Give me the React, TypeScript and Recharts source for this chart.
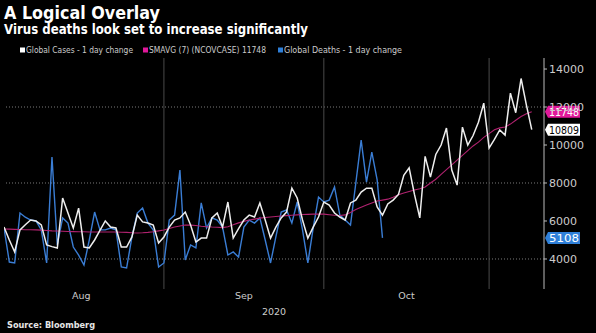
import React from 'react';
import { ComposedChart, Line, XAxis, YAxis, ReferenceLine, ReferenceDot, Label } from 'recharts';

// Daily values starting Aug 2, 2020 (index 0) through Nov 9, 2020 (index 99)
const casesChange = [
  5680, 5000, 4370, 5530, 5800, 6050, 6000, 5790, 4740, 4650,
  4580, 7210, 6420, 5630, 6680, 4630, 4580, 5000, 5500, 6000,
  5680, 5630, 4630, 4630, 5160, 6310, 5950, 5890, 5790, 4840,
  5160, 5680, 6050, 6160, 6470, 5790, 4890, 5100, 5100, 6160,
  6420, 5680, 7000, 5100, 5600, 6050, 6310, 6210, 6950, 6050,
  5100, 5680, 6160, 6470, 7730, 7210, 6050, 5100, 5680, 6210,
  7000, 6840, 6420, 6210, 6050, 6950, 7100, 7520, 7730, 7730,
  6740, 6310, 6900, 7100, 7400, 8400, 8800, 7400, 6160, 9400,
  8310, 9500, 10000, 10890, 8680, 7890, 10940, 10000, 10500, 11200,
  12200, 9840, 10300, 10790, 10520, 12730, 11700, 13500, 12100, 10809,
];

const smaValues = [
  5580, 5570, 5560, 5550, 5540, 5540, 5530, 5520, 5500, 5480,
  5470, 5460, 5450, 5440, 5430, 5430, 5420, 5420, 5420, 5420,
  5420, 5420, 5410, 5400, 5380, 5370, 5380, 5400, 5430, 5480,
  5530, 5600, 5680, 5740, 5790, 5780, 5760, 5720, 5700, 5680,
  5670, 5650, 5700, 5800, 5900, 5980, 6050, 6100, 6150, 6180,
  6210, 6240, 6260, 6280, 6300, 6320, 6340, 6350, 6360, 6370,
  6360, 6330, 6300, 6290, 6320, 6450, 6600, 6720, 6840, 6950,
  7050, 7100, 7150, 7250, 7380, 7470, 7550, 7630, 7700, 7790,
  8000, 8200, 8450, 8700, 8950, 9200, 9450, 9700, 9950, 10150,
  10400, 10600, 10800, 10900, 10950, 11100, 11300, 11500, 11650, 11748,
];

const deathsChange = [
  5630, 3840, 3790, 6420, 6200, 6050, 6000, 5530, 3790, 9370,
  4740, 6160, 5890, 4630, 4200, 3680, 5000, 6470, 5530, 5530,
  5630, 5530, 3580, 3530, 5160, 6420, 6680, 5890, 5530, 3580,
  3790, 6050, 6310, 8680, 3950, 4740, 4580, 6950, 5630, 6160,
  6050, 5680, 4210, 4370, 4100, 5680, 6050, 5890, 6160, 5000,
  3790, 5160, 6470, 6580, 5890, 7000, 5530, 3790, 5630, 7260,
  7000, 7100, 7790, 6310, 6050, 5790, 8000, 10260, 8050, 9630,
  8160, 5108,
];

const monthLabels = ['Aug', 'Sep', 'Oct'];
const monthCenters = [14.5, 45, 75.5];
const monthStarts = [30, 60, 91];
const yTicks = [3000, 4000, 5000, 6000, 7000, 8000, 9000, 10000, 11000, 12000, 13000, 14000];
const yLabelStep = 2000;
const yGridValues = [4000, 8000, 12000];
const xDomain = [0, 101.3];
const yDomain = [2420, 14580];

const legendItems = [
  { label: 'Global Cases - 1 day change', color: '#ffffff' },
  { label: 'SMAVG (7) (NCOVCASE) 11748', color: '#e0189a' },
  { label: 'Global Deaths - 1 day change', color: '#2f7fd8' },
];

const data = casesChange.map((c, i) => ({
  i,
  cases: c,
  sma: smaValues[i],
  deaths: i < deathsChange.length ? deathsChange[i] : null,
}));

const FONT = 'DejaVu Sans';

const makeTag = (bg: string, fg: string, text: string) => (props: any) => {
  const cy = props.cy;
  const x0 = 545;
  return (
    <g>
      <path d={`M${x0},${cy} L${x0 + 3},${cy - 6} L${x0 + 35},${cy - 6} L${x0 + 35},${cy + 6} L${x0 + 3},${cy + 6} Z`} fill={bg} />
      <text x={x0 + 4} y={cy + 4} fontSize={11} fontFamily={FONT} fill={fg} textLength={30} lengthAdjust="spacingAndGlyphs">{text}</text>
    </g>
  );
};

const YTick = (props: any) => {
  const { x, y, payload } = props;
  if (payload.value % yLabelStep !== 0) return <g />;
  return (
    <text x={x} y={y} dy={4} fill="#cccccc" fontSize={11} fontFamily={FONT} textAnchor="start">
      {payload.value}
    </text>
  );
};

export default function App() {
  const lastI = casesChange.length - 1;
  const lastD = deathsChange.length - 1;
  const legendX = [20, 143, 278];
  const legendW = [107, 117, 118];
  return (
    <div style={{ position: 'fixed', left: 0, top: 0, width: 596, height: 333, background: '#000', overflow: 'hidden' }}>
      <div style={{ position: 'absolute', left: 0, top: 0 }}>
        <ComposedChart width={596} height={333} data={data} margin={{ top: 58, right: 0, left: 4, bottom: 14 }}>
          <XAxis
            xAxisId="main"
            type="number"
            dataKey="i"
            domain={xDomain}
            ticks={monthStarts}
            tick={false}
            tickSize={3}
            height={0}
            axisLine={{ stroke: '#8a8a8a' }}
            tickLine={{ stroke: '#8a8a8a' }}
            allowDataOverflow
          />
          <XAxis
            xAxisId="months"
            type="number"
            dataKey="i"
            domain={xDomain}
            ticks={monthCenters}
            tickFormatter={(v: number) => monthLabels[monthCenters.indexOf(v)] ?? ''}
            axisLine={false}
            tickLine={false}
            tickSize={0}
            tickMargin={3}
            height={30}
            tick={{ fill: '#cccccc', fontSize: 9.5, fontFamily: FONT }}
            allowDataOverflow
          >
            <Label value="2020" position="insideBottom" offset={4} fill="#cccccc" fontSize={9.5} fontFamily={FONT} />
          </XAxis>
          <YAxis
            orientation="right"
            type="number"
            domain={yDomain}
            ticks={yTicks}
            tick={<YTick />}
            tickSize={3}
            tickMargin={2}
            width={52}
            axisLine={{ stroke: '#bbbbbb' }}
            tickLine={{ stroke: '#bbbbbb' }}
            allowDataOverflow
          />
          {yGridValues.map((v) => (
            <ReferenceLine key={'h' + v} xAxisId="main" y={v} stroke="#7a7a7a" strokeDasharray="1 2" />
          ))}
          {monthStarts.map((v) => (
            <ReferenceLine key={'v' + v} xAxisId="main" x={v} stroke="#4a4a4a" />
          ))}
          <Line xAxisId="main" type="linear" dataKey="deaths" stroke="#3a7dd4" strokeWidth={1.4} dot={false} isAnimationActive={false} />
          <Line xAxisId="main" type="linear" dataKey="sma" stroke="#b0226f" strokeWidth={1.1} dot={false} isAnimationActive={false} />
          <Line xAxisId="main" type="linear" dataKey="cases" stroke="#eeeeee" strokeWidth={1.5} dot={false} isAnimationActive={false} />
          <ReferenceDot xAxisId="main" x={lastD} y={deathsChange[lastD]} r={0} shape={makeTag('#2f7fd8', '#ffffff', String(deathsChange[lastD]))} />
          <ReferenceDot xAxisId="main" x={lastI} y={casesChange[lastI]} r={0} shape={makeTag('#ffffff', '#000000', String(casesChange[lastI]))} />
          <ReferenceDot xAxisId="main" x={lastI} y={smaValues[lastI]} r={0} shape={makeTag('#e0189a', '#ffffff', String(smaValues[lastI]))} />
        </ComposedChart>
      </div>
      <svg width={596} height={333} style={{ position: 'absolute', left: 0, top: 0, pointerEvents: 'none' }}>
        <text x={4} y={19} fill="#ffffff" fontFamily={FONT} fontWeight="bold" fontSize={17} textLength={156} lengthAdjust="spacingAndGlyphs">A Logical Overlay</text>
        <text x={4} y={34} fill="#ffffff" fontFamily={FONT} fontWeight="bold" fontSize={13.5} textLength={304} lengthAdjust="spacingAndGlyphs">Virus deaths look set to increase significantly</text>
        {legendItems.map((it, k) => (
          <g key={it.label}>
            <rect x={legendX[k]} y={47.5} width={5} height={5} fill={it.color} />
            <text x={legendX[k] + 6} y={53} fill="#cccccc" fontFamily={FONT} fontSize={9.5} textLength={legendW[k]} lengthAdjust="spacingAndGlyphs">{it.label}</text>
          </g>
        ))}
        <text x={7} y={328} fill="#e6e6e6" fontFamily={FONT} fontWeight="bold" fontSize={9} textLength={88} lengthAdjust="spacingAndGlyphs">Source: Bloomberg</text>
      </svg>
    </div>
  );
}
